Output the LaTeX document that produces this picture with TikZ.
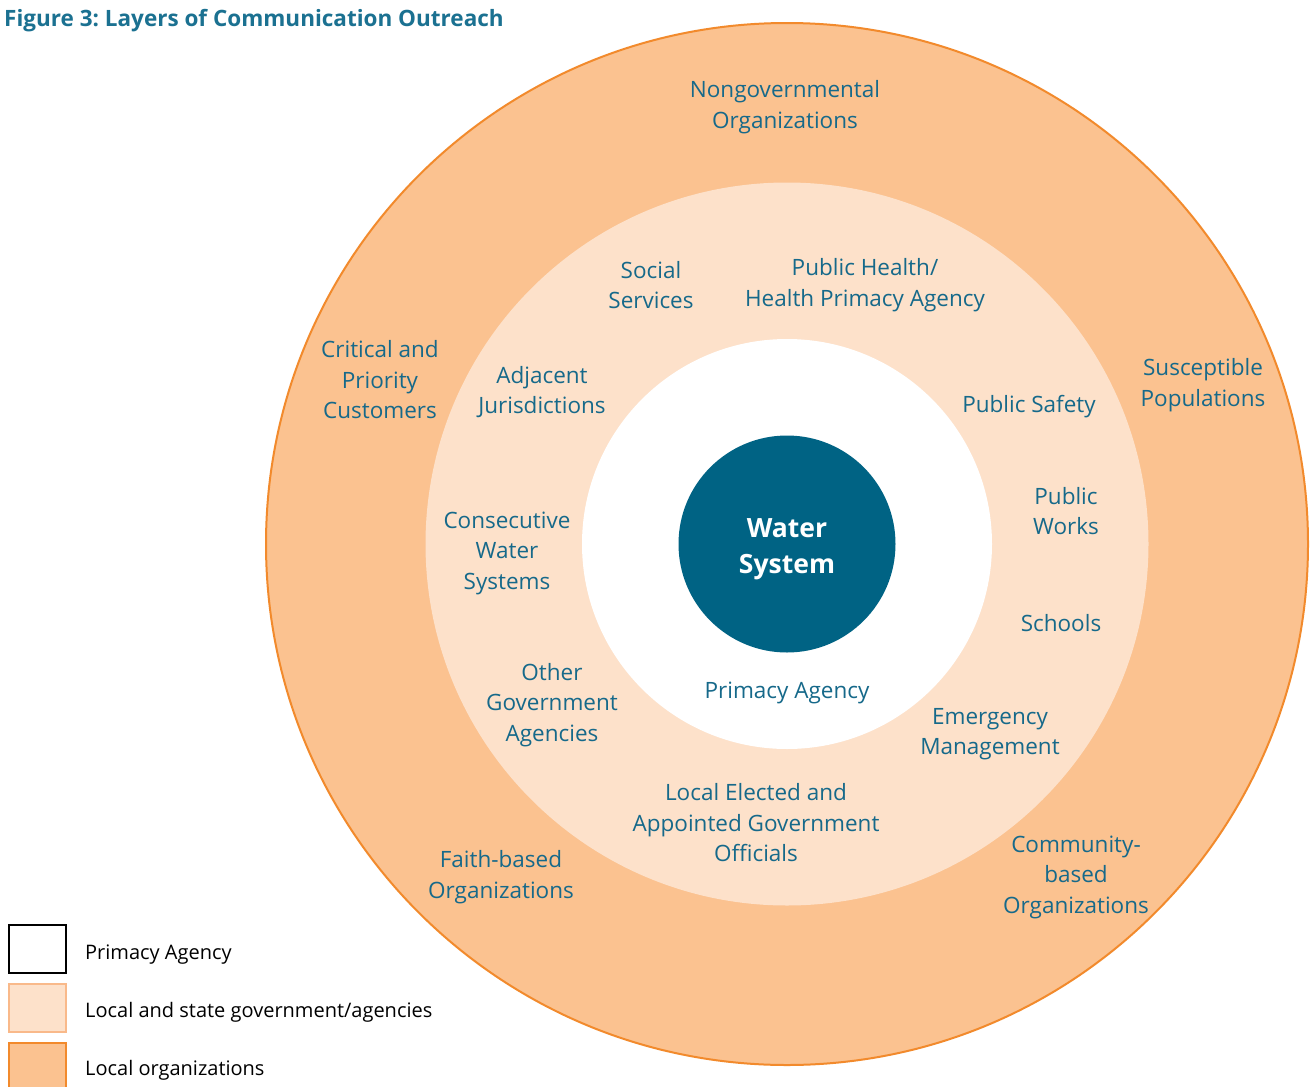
\documentclass[tikz,border=0pt]{standalone}
\usepackage{fontspec}
\setmainfont{Open Sans}
\frenchspacing
\definecolor{outerfill}{HTML}{FBC290}
\definecolor{outerline}{HTML}{F28A2C}
\definecolor{midfill}{HTML}{FDE1CA}
\definecolor{midline}{HTML}{F9B98A}
\definecolor{teal}{HTML}{16698A}
\definecolor{darkteal}{HTML}{006384}
\definecolor{titleteal}{HTML}{1B7191}
\begin{document}
\begin{tikzpicture}[x=1pt,y=-1pt,
  lbl/.style={align=center,text=teal,inner sep=0pt,font=\fontsize{22.5}{30.5}\selectfont},
  legtext/.style={anchor=west,inner sep=0pt,font=\fontsize{20}{24}\selectfont,text=black},
  legbox/.style={minimum width=57pt,minimum height=48pt,inner sep=0pt,line width=1.5pt}]
\useasboundingbox (0,0) rectangle (1310,1087);
\fill[white] (0,0) rectangle (1310,1087);
% circles
\node[circle,fill=outerfill,draw=outerline,line width=2pt,minimum size=1042pt,inner sep=0pt] (outer) at (787,544) {};
\node[circle,fill=midfill,minimum size=723pt,inner sep=0pt] (mid) at (787,544) {};
\node[circle,fill=white,minimum size=410pt,inner sep=0pt] (inner) at (787,544) {};
\node[circle,fill=darkteal,minimum size=217pt,inner sep=0pt] (ws) at (787,544) {};
\node[text=white,align=center,inner sep=0pt,font=\fontsize{26.5}{36}\bfseries\selectfont] (wst) at (787,549) {Water\\System};
% title
\node[anchor=west,inner sep=0pt,text=titleteal,font=\fontsize{22.5}{26}\bfseries\selectfont] (title) at (4,21) {Figure 3: Layers of Communication Outreach};
% outer labels
\node[lbl] (ngo) at (785,107) {Nongovernmental\\Organizations};
\node[lbl] (crit) at (380,380) {Critical and\\Priority\\Customers};
\node[lbl] (susc) at (1203,385) {Susceptible\\Populations};
\node[lbl] (faith) at (501,877) {Faith-based\\Organizations};
\node[lbl] (comm) at (1076,877) {Community-\\based\\Organizations};
% middle labels
\node[lbl] (soc) at (651,285) {Social\\Services};
\node[lbl] (ph) at (865,285) {Public Health/\\Health Primacy Agency};
\node[lbl] (adj) at (542,392) {Adjacent\\Jurisdictions};
\node[lbl] (psafe) at (1029,407) {Public Safety};
\node[lbl] (pw) at (1066,511) {Public\\Works};
\node[lbl] (cons) at (507,553) {Consecutive\\Water\\Systems};
\node[lbl] (sch) at (1061,623) {Schools};
\node[lbl] (oga) at (552,705) {Other\\Government\\Agencies};
\node[lbl] (em) at (990,734) {Emergency\\Management};
\node[lbl] (leo) at (756,823) {Local Elected and\\Appointed Government\\Officials};
% inner label
\node[lbl] (pa) at (787,693) {Primacy Agency};
% legend
\node[legbox,draw=black,fill=white] (lb1) at (37.5,949) {};
\node[legbox,draw=midline,fill=midfill] (lb2) at (37.5,1008) {};
\node[legbox,draw=outerline,fill=outerfill] (lb3) at (37.5,1067) {};
\node[legtext] (lt1) at (85,955) {Primacy Agency};
\node[legtext] (lt2) at (85,1012) {Local and state government/agencies};
\node[legtext] (lt3) at (85,1070) {Local organizations};
\end{tikzpicture}
\end{document}
